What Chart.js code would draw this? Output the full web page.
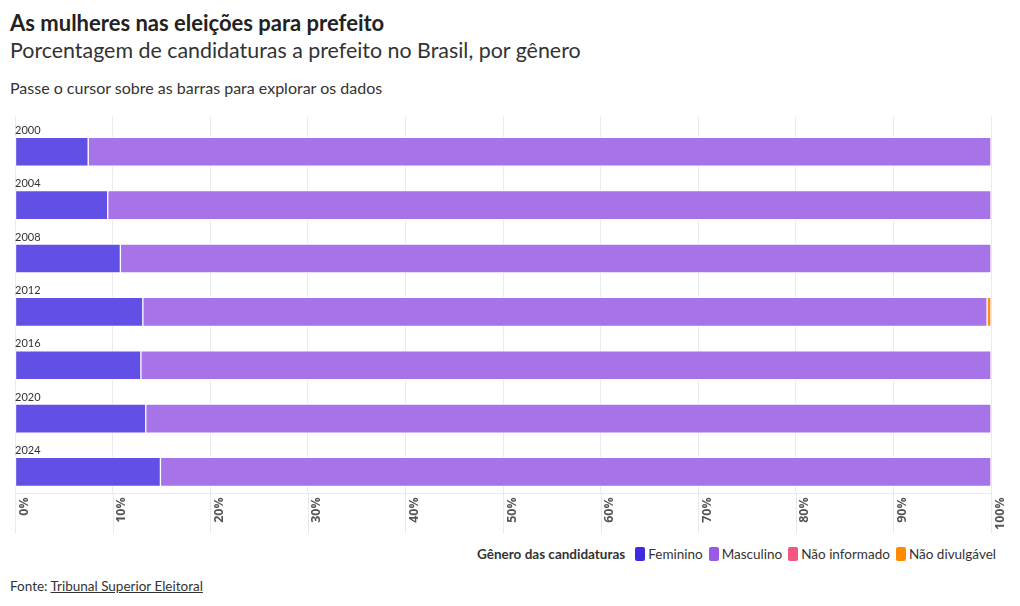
<!DOCTYPE html>
<html lang="pt-BR">
<head>
<meta charset="utf-8">
<script src="https://cdn.jsdelivr.net/npm/chart.js@4"></script>
<style>
  body { margin: 0; background: #fff; font-family: Lato, sans-serif; color: #333; width: 1020px; height: 606px; position: relative; overflow: hidden; }
  #titulo { position: absolute; left: 10px; top: 9px; font-size: 22px; font-weight: bold; color: #222; }
  #subtitulo { position: absolute; left: 10px; top: 37px; font-size: 21.4px; color: #333; }
  #dica { position: absolute; left: 10px; top: 78px; font-size: 16px; color: #333; }
  #caixa { position: absolute; left: 0; top: 110px; width: 1010px; height: 424px; }
  #legenda { position: absolute; right: 24px; top: 546px; font-size: 13.5px; color: #333; display: flex; align-items: center; }
  #legenda b { margin-right: 4px; }
  #legenda .item { display: flex; align-items: center; margin-left: 6px; }
  #legenda .cor { width: 10px; height: 14px; border-radius: 2px; margin-right: 3px; }
  #fonte { position: absolute; left: 10px; top: 578px; font-size: 13.5px; color: #333; }
  #fonte a { color: #333; }
</style>
</head>
<body>
<div id="titulo">As mulheres nas eleições para prefeito</div>
<div id="subtitulo">Porcentagem de candidaturas a prefeito no Brasil, por gênero</div>
<div id="dica">Passe o cursor sobre as barras para explorar os dados</div>
<div id="caixa"><canvas id="grafico"></canvas></div>
<div id="legenda"><b>Gênero das candidaturas</b></div>
<div id="fonte">Fonte: <a href="#">Tribunal Superior Eleitoral</a></div>
<script>
// dados (% das candidaturas)
const anos = ['2000', '2004', '2008', '2012', '2016', '2020', '2024'];
const feminino = [7.5, 9.5, 10.8, 13.1, 12.9, 13.4, 14.9];
const masculino = [92.5, 90.5, 89.2, 86.5, 87.1, 86.6, 85.1];
const naoInformado = [0, 0, 0, 0, 0, 0, 0];
const naoDivulgavel = [0, 0, 0, 0.4, 0, 0, 0];
const generos = ['Feminino', 'Masculino', 'Não informado', 'Não divulgável'];
const coresBarra = ['#614fe6', '#a673e8', '#f0577f', '#ff8c1a'];
const coresLegenda = ['#3f2ae3', '#9b5ae6', '#f2587f', '#ff8c00'];
const ticksX = [0, 10, 20, 30, 40, 50, 60, 70, 80, 90, 100];

const series = [feminino, masculino, naoInformado, naoDivulgavel];

// legenda em html
const leg = document.getElementById('legenda');
generos.forEach((g, i) => {
  const d = document.createElement('span');
  d.className = 'item';
  d.innerHTML = '<span class="cor" style="background:' + coresLegenda[i] + '"></span>' + g;
  leg.appendChild(d);
});

// rótulos dos anos acima de cada barra + grade que desce até o fim dos rótulos
const extras = {
  id: 'extras',
  beforeDatasetsDraw(chart) {
    const c = chart.ctx;
    const x = chart.scales.x;
    c.save();
    c.strokeStyle = '#e9e9ef';
    c.lineWidth = 1;
    ticksX.forEach(v => {
      const px = Math.round(x.getPixelForValue(v)) + 0.5;
      c.beginPath();
      c.moveTo(px, x.top);
      c.lineTo(px, x.top + 40);
      c.stroke();
    });
    c.restore();
  },
  afterDatasetsDraw(chart) {
    const c = chart.ctx;
    const y = chart.scales.y;
    const x = chart.scales.x;
    c.save();
    c.font = '11px Lato, sans-serif';
    c.fillStyle = '#333';
    c.textBaseline = 'bottom';
    anos.forEach((a, i) => {
      c.fillText(a, x.left, y.getPixelForValue(i) - 16);
    });
    c.restore();
  }
};

const ctx = document.getElementById('grafico').getContext('2d');
new Chart(ctx, {
  type: 'bar',
  data: {
    datasets: series.map((s, k) => ({
      label: generos[k],
      data: s.map((v, i) => ({ x: v, y: i })),
      backgroundColor: coresBarra[k],
      borderColor: '#fff',
      borderWidth: 1,
      borderSkipped: false,
      barThickness: 29
    }))
  },
  options: {
    indexAxis: 'y',
    responsive: true,
    maintainAspectRatio: false,
    animation: false,
    layout: { padding: { left: 15, right: 18, top: 6, bottom: 0 } },
    plugins: { legend: { display: false }, tooltip: { enabled: false } },
    scales: {
      x: {
        type: 'linear',
        stacked: true,
        min: 0,
        max: 100,
        afterBuildTicks: (ax) => { ax.ticks = ticksX.map(v => ({ value: v })); },
        grid: { color: '#e9e9ef', drawTicks: false },
        border: { color: '#e9e9ef' },
        ticks: {
          callback: (v) => v + '%',
          autoSkip: false,
          maxRotation: 90,
          minRotation: 90,
          padding: 4,
          labelOffset: 9,
          color: '#555',
          font: { family: '"Open Sans", sans-serif', size: 12.5, weight: 'bold' }
        }
      },
      y: {
        type: 'linear',
        stacked: true,
        reverse: true,
        offset: false,
        min: -0.67,
        max: 6.4,
        display: false
      }
    }
  },
  plugins: [extras]
});
</script>
</body>
</html>
